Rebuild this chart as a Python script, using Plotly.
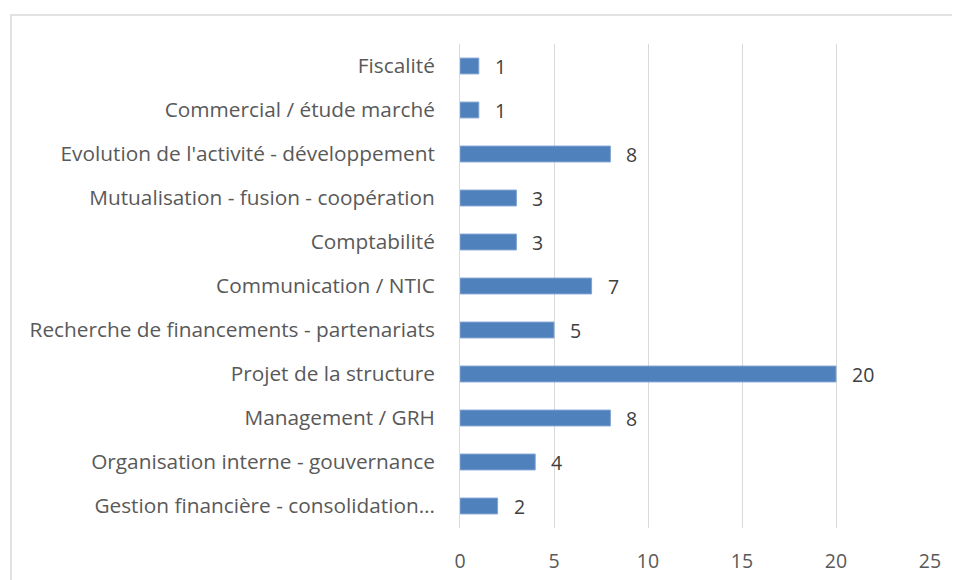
import plotly.graph_objects as go

categories = [
    "Gestion financière - consolidation…",
    "Organisation interne - gouvernance",
    "Management / GRH",
    "Projet de la structure",
    "Recherche de financements - partenariats",
    "Communication / NTIC",
    "Comptabilité",
    "Mutualisation - fusion - coopération",
    "Evolution de l'activité - développement",
    "Commercial / étude marché",
    "Fiscalité",
]
values = [2, 4, 8, 20, 5, 7, 3, 3, 8, 1, 1]
x_ticks = [0, 5, 10, 15, 20, 25]

FONT = "Open Sans"
TXT = "#404040"
AXT = "#595959"
FS_CAT = 20.8
FS_NUM = 19.5

fig = go.Figure()
fig.add_trace(go.Bar(
    y=categories, x=values, orientation="h",
    marker=dict(color="#4F81BD", line=dict(color="#7FA3D0", width=1)),
    hoverinfo="x+y",
))

for c, v in zip(categories, values):
    fig.add_annotation(x=v, y=c, text=str(v), showarrow=False,
                       xanchor="left", xshift=14,
                       font=dict(family=FONT, size=FS_NUM, color=TXT))

fig.add_shape(type="rect", xref="paper", yref="paper",
              x0=(11 - 460) / 470, x1=1.2, y0=-0.3, y1=(528 - 15) / 484,
              line=dict(color="#D9D9D9", width=1.5), fillcolor="rgba(0,0,0,0)",
              layer="below")

fig.update_layout(
    width=960, height=580,
    margin=dict(l=452, r=38, t=36, b=60),
    paper_bgcolor="white", plot_bgcolor="white",
    bargap=0.64,
    showlegend=False,
    font=dict(family=FONT, size=FS_NUM, color=AXT),
    xaxis=dict(range=[0, 25], tickvals=x_ticks, showgrid=True,
               gridcolor="#D9D9D9", gridwidth=1, zeroline=False,
               showline=False, ticks="", ticklabelstandoff=19,
               tickfont=dict(family=FONT, size=FS_NUM, color=AXT), fixedrange=True),
    yaxis=dict(showgrid=False, showline=True, linecolor="#D9D9D9", linewidth=1,
               ticks="", ticklabelstandoff=20,
               tickfont=dict(family=FONT, size=FS_CAT, color=AXT), fixedrange=True),
)

fig.write_html("out.html")
